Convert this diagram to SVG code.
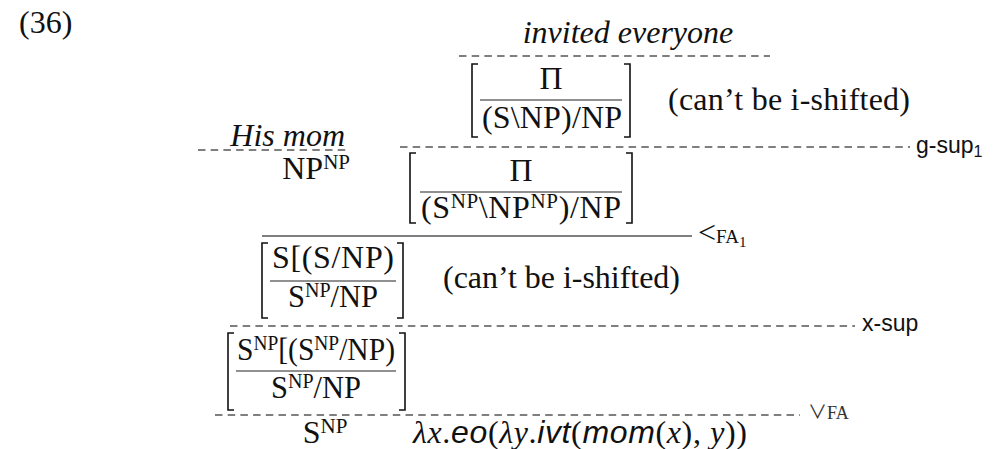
<svg xmlns="http://www.w3.org/2000/svg" width="995" height="449" viewBox="0 0 995 449">
<style>
.t{font-family:"Liberation Serif","Times New Roman",serif;font-size:32px;fill:#111}
.it{font-style:italic}
.s{font-size:21px}
.lbl{font-family:"Liberation Sans",Arial,sans-serif;font-size:23px;fill:#111}
.ss{font-family:"Liberation Sans",Arial,sans-serif;font-style:italic}
.dash{stroke:#555;stroke-width:1.3;stroke-dasharray:7.5 5.2;fill:none}
.solid{stroke:#555;stroke-width:1.3;fill:none}
.br{stroke:#111;stroke-width:1.6;fill:none}
.bar{stroke:#222;stroke-width:1.2}
</style>
<rect width="995" height="449" fill="#fff"/>
<text id="ex-num" class="t" x="19" y="33">(36)</text>

<g id="connectors">
  <line class="dash" x1="459" y1="56" x2="770" y2="56"/>
  <line class="dash" x1="400" y1="147" x2="910" y2="147"/>
  <line class="dash" x1="198" y1="150" x2="350" y2="150"/>
  <line class="solid" x1="262" y1="236" x2="692" y2="236"/>
  <line class="dash" x1="230" y1="326" x2="855" y2="326"/>
  <line class="dash" x1="215" y1="415" x2="800" y2="415"/>
</g>

<g id="n-invited">
  <text class="t it" x="628" y="43" text-anchor="middle">invited everyone</text>
</g>

<g id="n-boxA">
  <path class="br" d="M478,64 H472 V137 H478"/>
  <path class="br" d="M624,64 H630 V137 H624"/>
  <text class="t" x="551" y="89" text-anchor="middle">Π</text>
  <line class="bar" x1="480" y1="100" x2="622" y2="100"/>
  <text class="t" x="552" y="128" text-anchor="middle" textLength="140" lengthAdjust="spacing">(S\NP)/NP</text>
</g>
<g id="n-noteA">
  <text class="t" x="668" y="110" textLength="242" lengthAdjust="spacing">(can’t be i-shifted)</text>
</g>
<g id="n-gsup">
  <text class="lbl" x="916" y="153">g-sup<tspan font-size="16" dy="4">1</tspan></text>
</g>

<g id="n-hismom">
  <text class="t it" x="345" y="146" text-anchor="end">His mom</text>
  <text class="t" x="350" y="179" text-anchor="end">NP<tspan class="s" dy="-10">NP</tspan></text>
</g>

<g id="n-boxB">
  <path class="br" d="M416,153 H410 V223 H416"/>
  <path class="br" d="M626,153 H632 V223 H626"/>
  <text class="t" x="521" y="181" text-anchor="middle">Π</text>
  <line class="bar" x1="420" y1="192" x2="622" y2="192"/>
  <text class="t" x="521" y="218" text-anchor="middle" textLength="200" lengthAdjust="spacing">(S<tspan class="s" dy="-10">NP</tspan><tspan dy="10">\NP</tspan><tspan class="s" dy="-10">NP</tspan><tspan dy="10">)/NP</tspan></text>
</g>
<g id="n-fa1">
  <text class="t" x="698" y="243" font-size="24">&lt;<tspan font-size="19">FA</tspan><tspan font-size="15" dy="4">1</tspan></text>
</g>

<g id="n-boxC">
  <path class="br" d="M268,243 H262 V318 H268"/>
  <path class="br" d="M397,243 H403 V318 H397"/>
  <text class="t" x="333" y="268" text-anchor="middle" textLength="122" lengthAdjust="spacing">S[(S/NP)</text>
  <line class="bar" x1="270" y1="281" x2="396" y2="281"/>
  <text class="t" x="333" y="307" text-anchor="middle" textLength="90" lengthAdjust="spacingAndGlyphs">S<tspan class="s" dy="-10">NP</tspan><tspan dy="10">/NP</tspan></text>
</g>
<g id="n-noteC">
  <text class="t" x="443" y="288" textLength="237" lengthAdjust="spacing">(can’t be i-shifted)</text>
</g>
<g id="n-xsup">
  <text class="lbl" x="862" y="331">x-sup</text>
</g>

<g id="n-boxD">
  <path class="br" d="M234,333 H228 V410 H234"/>
  <path class="br" d="M399,333 H405 V410 H399"/>
  <text class="t" x="316" y="360" text-anchor="middle" textLength="158" lengthAdjust="spacingAndGlyphs">S<tspan class="s" dy="-10">NP</tspan><tspan dy="10">[(S</tspan><tspan class="s" dy="-10">NP</tspan><tspan dy="10">/NP)</tspan></text>
  <line class="bar" x1="236" y1="371" x2="396" y2="371"/>
  <text class="t" x="316" y="398" text-anchor="middle" textLength="90" lengthAdjust="spacingAndGlyphs">S<tspan class="s" dy="-10">NP</tspan><tspan dy="10">/NP</tspan></text>
</g>
<g id="n-vfa">
  <text x="808" y="419" font-family="'Noto Sans CJK JP','Liberation Serif',serif" font-size="19" fill="#333">∨<tspan font-size="18" font-family="Liberation Serif">FA</tspan></text>
</g>

<g id="n-result">
  <text class="t" x="325" y="443" text-anchor="middle">S<tspan class="s" dy="-10">NP</tspan></text>
  <text class="t" x="413" y="443" textLength="334" lengthAdjust="spacing"><tspan class="it">λx</tspan>.<tspan class="ss">eo</tspan>(<tspan class="it">λy</tspan>.<tspan class="ss">ivt</tspan>(<tspan class="ss">mom</tspan>(<tspan class="it">x</tspan>), <tspan class="it">y</tspan>))</text>
</g>
</svg>
